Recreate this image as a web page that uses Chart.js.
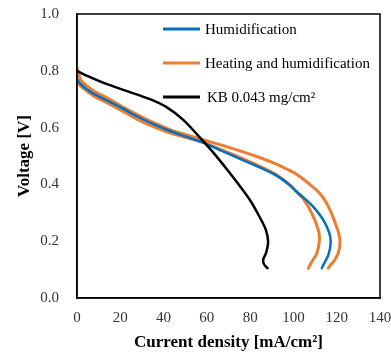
<!DOCTYPE html>
<html lang="en">
<head>
    <meta charset="UTF-8">
    <title>Polarization curves</title>
    <script src="https://cdn.jsdelivr.net/npm/chart.js@4.4.1/dist/chart.umd.min.js"></script>
    <style>
        html, body { margin: 0; padding: 0; background: #fff; }
        #wrap { width: 391px; height: 357px; }
    </style>
</head>
<body>
    <div id="wrap"><canvas id="graph" width="391" height="357"></canvas></div>

    <script>
        // current density [mA/cm2] and voltage [V] for each run
        const humI = [0, 1.5, 4, 8, 14, 20, 27.6, 35, 43, 50, 58, 66, 75.3, 82, 89.2, 94, 98.4, 101.5, 105.5, 109.2, 113.8, 116.6, 117.2, 116.1, 113.8, 113.1];
        const humV = [0.772, 0.755, 0.738, 0.718, 0.695, 0.672, 0.640, 0.613, 0.588, 0.569, 0.548, 0.521, 0.490, 0.468, 0.443, 0.422, 0.396, 0.374, 0.348, 0.321, 0.275, 0.228, 0.193, 0.151, 0.116, 0.105];

        const heatAI = [0, 1.7, 4, 8, 14, 20, 27.6, 35, 43, 50, 56.8, 66, 75.3, 82, 89.2, 95, 100.5, 104.6, 108.5, 112.3, 115, 117.5, 119.5, 121, 121.5, 120.8, 119, 117, 116.1];
        const heatAV = [0.810, 0.769, 0.750, 0.728, 0.704, 0.678, 0.647, 0.619, 0.593, 0.576, 0.560, 0.540, 0.518, 0.501, 0.481, 0.461, 0.440, 0.418, 0.394, 0.367, 0.338, 0.300, 0.260, 0.225, 0.195, 0.160, 0.133, 0.115, 0.105];

        const heatBI = [0, 1.5, 4, 8, 14, 20, 27.6, 35, 43, 50, 58, 66, 75.3, 82, 89.2, 94, 98.4, 102, 104.6, 108.5, 111.5, 112, 110.8, 108.5, 106.9];
        const heatBV = [0.762, 0.748, 0.732, 0.710, 0.687, 0.662, 0.630, 0.604, 0.581, 0.566, 0.549, 0.524, 0.495, 0.472, 0.447, 0.424, 0.398, 0.370, 0.349, 0.298, 0.239, 0.204, 0.157, 0.128, 0.105];

        const kbI = [0, 5, 10.6, 21.7, 33.7, 41.4, 49.1, 56.8, 63, 70.7, 79.9, 84.6, 87.3, 88.3, 87.4, 86, 86.5, 88];
        const kbV = [0.800, 0.781, 0.763, 0.732, 0.700, 0.672, 0.627, 0.565, 0.512, 0.439, 0.345, 0.282, 0.239, 0.198, 0.160, 0.134, 0.118, 0.105];

        const seriesLabels = ['Humidification', 'Heating and humidification', 'KB 0.043 mg/cm²'];
        const seriesColors = ['#0070C0', '#ED7D31', '#000000'];

        const xTicks = [0, 20, 40, 60, 80, 100, 120, 140];
        const yTicks = [0.0, 0.2, 0.4, 0.6, 0.8, 1.0];

        function toPoints(xs, ys) {
            return xs.map((x, i) => ({x: x, y: ys[i]}));
        }

        // legend drawn inside the plot, top right, one entry per label
        const boxLegend = {
            id: 'boxLegend',
            afterDraw(chart) {
                const ctx = chart.ctx;
                const a = chart.chartArea;
                ctx.save();
                // frame around the plot
                ctx.strokeStyle = '#000';
                ctx.lineWidth = 1.5;
                ctx.strokeRect(a.left, a.top, a.right - a.left, a.bottom - a.top);

                ctx.font = '15px "Liberation Serif", "Times New Roman", serif';
                ctx.textBaseline = 'middle';
                ctx.fillStyle = '#000';
                seriesLabels.forEach((label, i) => {
                    const y = a.top + 15 + i * 34;
                    ctx.strokeStyle = seriesColors[i];
                    ctx.lineWidth = 3;
                    ctx.beginPath();
                    ctx.moveTo(a.left + 86, y);
                    ctx.lineTo(a.left + 123, y);
                    ctx.stroke();
                    ctx.fillText(label, a.left + (i === 2 ? 130 : 128), y + 1);
                });
                ctx.restore();
            }
        };

        const ctx = document.getElementById('graph').getContext('2d');
        const myChart = new Chart(ctx, {
            type: 'scatter',
            data: {
                datasets: [
                    {
                        label: seriesLabels[2],
                        data: toPoints(kbI, kbV),
                        borderColor: seriesColors[2],
                        borderWidth: 2.5,
                        order: 0
                    },
                    {
                        label: seriesLabels[0],
                        data: toPoints(humI, humV),
                        borderColor: seriesColors[0],
                        borderWidth: 2.5,
                        order: 1
                    },
                    {
                        label: seriesLabels[1],
                        data: toPoints(heatAI, heatAV),
                        borderColor: seriesColors[1],
                        borderWidth: 3,
                        order: 2
                    },
                    {
                        label: seriesLabels[1],
                        data: toPoints(heatBI, heatBV),
                        borderColor: seriesColors[1],
                        borderWidth: 3,
                        order: 3
                    }
                ]
            },
            options: {
                responsive: false,
                animation: false,
                showLine: true,
                elements: {
                    point: { radius: 0, hoverRadius: 0 },
                    line: { tension: 0.3, fill: false, borderCapStyle: 'round', borderJoinStyle: 'round' }
                },
                layout: { padding: { top: 14, right: 11, left: 0, bottom: 0 } },
                plugins: {
                    legend: { display: false },
                    tooltip: { enabled: false }
                },
                scales: {
                    x: {
                        type: 'linear',
                        min: 0,
                        max: 140,
                        afterFit: s => { s.height = 59; s.paddingLeft = 0; s.paddingRight = 0; },
                        afterBuildTicks: s => { s.ticks = xTicks.map(v => ({value: v})); },
                        grid: { display: false, drawTicks: false },
                        border: { display: true, color: '#000', width: 1.5 },
                        ticks: {
                            padding: 11,
                            color: '#333',
                            font: { family: '"Liberation Serif", serif', size: 15 }
                        },
                        title: {
                            display: true,
                            text: 'Current density [mA/cm²]',
                            color: '#000',
                            font: { family: '"Liberation Serif", serif', size: 17, weight: 'bold' },
                            padding: { top: 0, bottom: 4 }
                        }
                    },
                    y: {
                        type: 'linear',
                        min: 0,
                        max: 1,
                        afterFit: s => { s.width = 77; s.paddingTop = 0; s.paddingBottom = 0; },
                        afterBuildTicks: s => { s.ticks = yTicks.map(v => ({value: v})); },
                        grid: { display: false, drawTicks: false },
                        border: { display: true, color: '#000', width: 1.5 },
                        ticks: {
                            padding: 18,
                            color: '#333',
                            font: { family: '"Liberation Serif", serif', size: 15 },
                            callback: v => v.toFixed(1)
                        },
                        title: {
                            display: true,
                            text: 'Voltage [V]',
                            color: '#000',
                            font: { family: '"Liberation Serif", serif', size: 17, weight: 'bold' },
                            padding: { top: 14, bottom: 0 }
                        }
                    }
                }
            },
            plugins: [boxLegend]
        });
    </script>
</body>
</html>
